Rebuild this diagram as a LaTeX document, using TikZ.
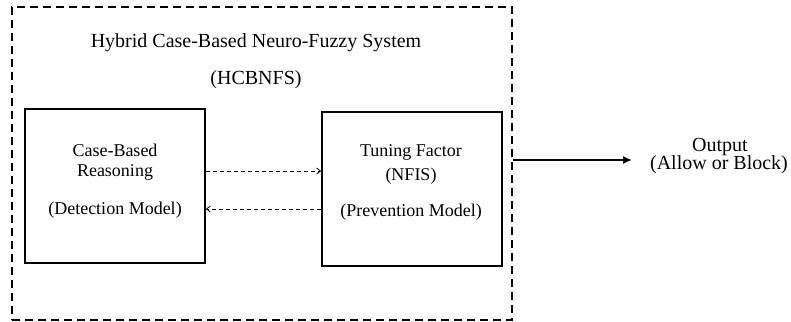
\documentclass[tikz,border=0pt]{standalone}
\usepackage{fontspec}
\setmainfont{Liberation Serif}
\usetikzlibrary{arrows.meta}
\begin{document}
\begin{tikzpicture}[x=1pt,y=-1pt,
  box/.style={draw,line width=1.6pt,minimum width=180pt,minimum height=154pt,inner sep=0pt},
  lbl/.style={font=\fontsize{20}{22}\selectfont,inner sep=0pt},
  blbl/.style={font=\fontsize{18}{20}\selectfont,inner sep=0pt},
  dasharr/.style={line width=0.8pt,dash pattern=on 4pt off 3pt,-{Straight Barb[length=4pt,width=6pt]}},
  outer/.style={line width=1.6pt,dash pattern=on 8pt off 5pt}]
\useasboundingbox (0,0) rectangle (791,321);
\node[draw,outer,minimum width=500pt,minimum height=313pt,inner sep=0pt] (sys) at (262,163.5) {};
\node[lbl] (title) at (256,43) {Hybrid Case-Based Neuro-Fuzzy System};
\node[lbl] (abbr) at (256,80) {(HCBNFS)};
\node[box] (cbr) at (115,186) {};
\node[box] (nfis) at (412,189) {};
\node[blbl] (c1) at (115,150) {Case-Based};
\node[blbl] (c2) at (115,172) {Reasoning};
\node[blbl] (c3) at (115,210) {(Detection Model)};
\node[blbl] (n1) at (411,152) {Tuning Factor};
\node[blbl] (n2) at (411,176) {(NFIS)};
\node[blbl] (n3) at (411,212) {(Prevention Model)};
\coordinate (a1) at (cbr.east |- 0,171);
\coordinate (b1) at (nfis.west |- 0,171);
\coordinate (a2) at (nfis.west |- 0,209);
\coordinate (b2) at (cbr.east |- 0,209);
\draw[dasharr] (a1) -- (b1);
\draw[dasharr] (a2) -- (b2);
\coordinate (o1) at (sys.east |- 0,160);
\coordinate (o2) at (632,160);
\draw[line width=1.6pt,-{Latex[length=9pt,width=8pt]}] (o1) -- (o2);
\node[lbl] (out1) at (720,147) {Output};
\node[lbl] (out2) at (719,165) {(Allow or Block)};
\end{tikzpicture}
\end{document}
